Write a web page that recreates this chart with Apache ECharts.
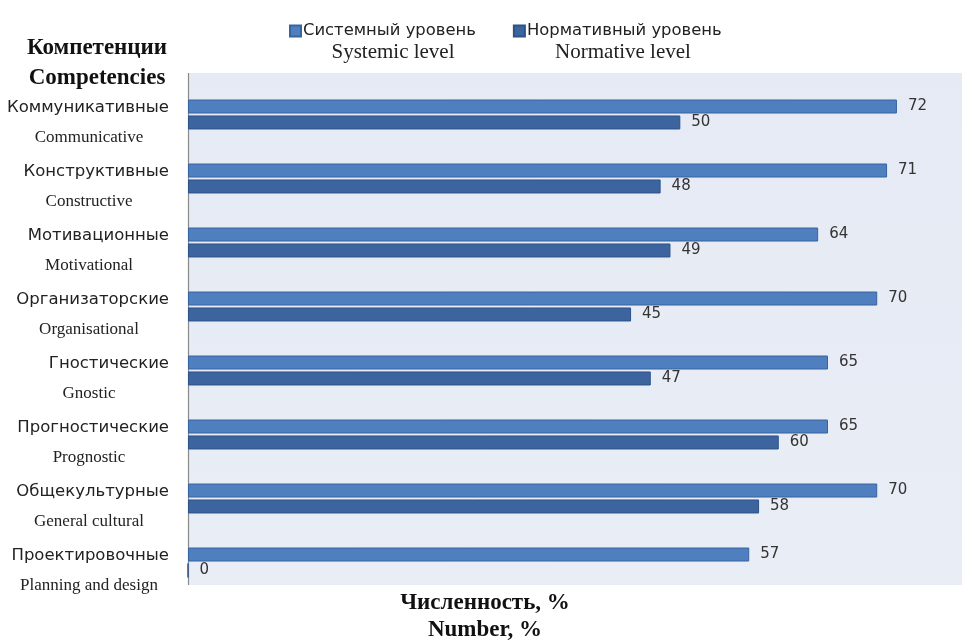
<!DOCTYPE html>
<html>
<head>
<meta charset="utf-8">
<script src="https://cdn.jsdelivr.net/npm/echarts@6/dist/echarts.min.js"></script>
<style>
html,body{margin:0;padding:0;background:#fff;}
#chart{width:962px;height:642px;}
</style>
</head>
<body>
<div id="chart"></div>
<script>
const categoriesRu = ['Коммуникативные','Конструктивные','Мотивационные','Организаторские','Гностические','Прогностические','Общекультурные','Проектировочные'];
const categoriesEn = ['Communicative','Constructive','Motivational','Organisational','Gnostic','Prognostic','General cultural','Planning and design'];
const systemicValues = [72, 71, 64, 70, 65, 65, 70, 57];
const normativeValues = [50, 48, 49, 45, 47, 60, 58, 0];
const seriesNamesRu = ['Системный уровень','Нормативный уровень'];
const seriesNamesEn = ['Systemic level','Normative level'];

const chart = echarts.init(document.getElementById('chart'), null, {renderer:'canvas'});
const sans = '"DejaVu Sans", "Noto Sans", sans-serif';
const serif = '"Liberation Serif", "DejaVu Serif", serif';

const option = {
  animation: false,
  backgroundColor: '#ffffff',
  grid: { left: 188, right: 6, top: 82.5, bottom: 47.5, containLabel: false },
  legend: {
    data: seriesNamesRu,
    left: 284, top: 18,
    itemWidth: 11, itemHeight: 11, itemGap: 37,
    icon: 'rect',
    textStyle: { fontFamily: sans, fontSize: 16.4, color: '#222', padding: [0,0,0,-3] }
  },
  xAxis: {
    type: 'value', min: 0, max: 78,
    axisLine: { show: false }, axisTick: { show: false },
    axisLabel: { show: false }, splitLine: { show: false }
  },
  yAxis: {
    type: 'category', inverse: true,
    data: categoriesRu,
    axisLine: { show: false }, axisTick: { show: false },
    axisLabel: {
      margin: 19,
      width: 160,
      align: 'right',
      padding: [16,0,0,0],
      formatter: function (v, i) { return '{ru|' + v + '}\n{en|' + categoriesEn[i] + '}'; },
      rich: {
        ru: { fontFamily: sans, fontSize: 16.5, color: '#222', lineHeight: 30, align: 'right' },
        en: { fontFamily: serif, fontSize: 17, color: '#222', lineHeight: 30, align: 'center' }
      }
    }
  },
  graphic: [
    { type: 'rect', z: -10, shape: { x: 188, y: 73, width: 774, height: 512 },
      style: { fill: new echarts.graphic.LinearGradient(0,0,0,1,[{offset:0,color:'#e6eaf4'},{offset:1,color:'#e9edf6'}]) } },
    { type: 'line', z: -5, shape: { x1: 188.5, y1: 73, x2: 188.5, y2: 585 }, style: { stroke: '#8a8a8a', lineWidth: 1.2 } },
    { type: 'text', x: 97, y: 48, style: { text: 'Компетенции', font: 'bold 23px "Liberation Serif", serif', fill: '#111', align: 'center', verticalAlign: 'middle' } },
    { type: 'text', x: 97, y: 78, style: { text: 'Competencies', font: 'bold 23px "Liberation Serif", serif', fill: '#111', align: 'center', verticalAlign: 'middle' } },
    { type: 'text', x: 393, y: 52, style: { text: seriesNamesEn[0], font: '21px "Liberation Serif", serif', fill: '#222', align: 'center', verticalAlign: 'middle' } },
    { type: 'text', x: 623, y: 52, style: { text: seriesNamesEn[1], font: '21px "Liberation Serif", serif', fill: '#222', align: 'center', verticalAlign: 'middle' } },
    { type: 'text', x: 485, y: 603, style: { text: 'Численность, %', font: 'bold 23px "Liberation Serif", serif', fill: '#111', align: 'center', verticalAlign: 'middle' } },
    { type: 'text', x: 485, y: 630, style: { text: 'Number, %', font: 'bold 23px "Liberation Serif", serif', fill: '#111', align: 'center', verticalAlign: 'middle' } }
  ],
  series: [
    {
      name: seriesNamesRu[0], type: 'bar', data: systemicValues,
      barWidth: 14, barGap: '14%',
      itemStyle: { color: '#4f7fbf', borderColor: '#36649f', borderWidth: 1 },
      label: { show: true, position: 'right', distance: 11, fontFamily: sans, fontSize: 15, color: '#333' }
    },
    {
      name: seriesNamesRu[1], type: 'bar', data: normativeValues,
      barWidth: 14,
      itemStyle: { color: '#3c65a0', borderColor: '#2c5288', borderWidth: 1 },
      label: { show: true, position: 'right', distance: 11, fontFamily: sans, fontSize: 15, color: '#333' }
    }
  ]
};
chart.setOption(option);
</script>
</body>
</html>
